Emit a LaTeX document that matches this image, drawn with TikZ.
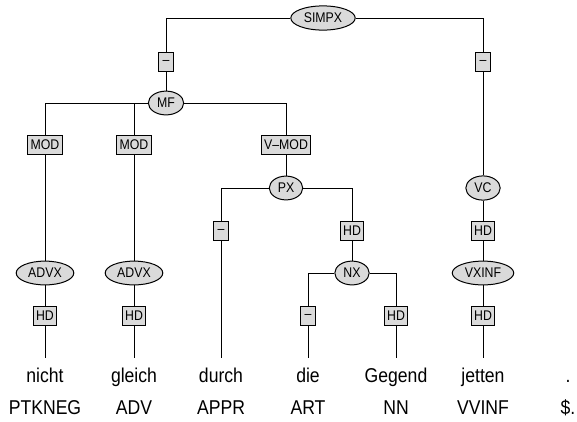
\documentclass[tikz,border=0pt]{standalone}
\usepackage{fontspec}
\newfontfamily\treefont{Liberation Sans}[FakeStretch=0.88,Ligatures=TeX]
\usetikzlibrary{shapes.geometric}
\definecolor{NodeGray}{RGB}{218,218,218}
\tikzset{
  catnode/.style={draw=black,ellipse,fill=NodeGray,line width=1pt,
    inner sep=3.6pt,minimum height=23pt,
    font=\treefont\fontsize{14}{16}\selectfont},
  funcbox/.style={draw=black,rectangle,fill=NodeGray,line width=1pt,
    inner xsep=3pt,inner ysep=0pt,minimum width=15pt,minimum height=19pt,
    font=\treefont\fontsize{14}{16}\selectfont},
  wordnode/.style={anchor=north,inner xsep=0pt,inner ysep=9.5pt,
    text height=15pt,text depth=4pt,font=\treefont\fontsize{20}{24}\selectfont},
  tagnode/.style={anchor=base,inner sep=0pt,
    font=\treefont\fontsize{20}{24}\selectfont},
  treeline/.style={line width=1pt,draw=black},
}

\begin{document}
\begin{tikzpicture}[x=1pt,y=-1pt]
    \useasboundingbox (0,0) rectangle (577,421);

    % terminals and their tags
    \foreach \x/\w/\t [count=\i] in {45/nicht/PTKNEG,134/gleich/ADV,
        221/durch/APPR,308/die/ART,396/Gegend/NN,483/jetten/VVINF,568/./\$.}{
      \node[wordnode] (w\i) at (\x,358) {\w};
      \node[tagnode]  (t\i) at (\x,414) {\t};
    }

    % sentence level
    \node[catnode] (simpx) at (323,18)  {SIMPX};
    \node[funcbox] (e1)    at (166,62)  {–};
    \node[funcbox] (e2)    at (483,62)  {–};

    % middle field
    \node[catnode] (mf)    at (166,103) {MF};
    \node[funcbox] (mod1)  at (45,145)  {MOD};
    \node[funcbox] (mod2)  at (134,145) {MOD};
    \node[funcbox] (vmod)  at (286,145) {V–MOD};
    \node[catnode] (advx1) at (45,273)  {ADVX};
    \node[catnode] (advx2) at (134,273) {ADVX};
    \node[funcbox] (hd1)   at (45,316)  {HD};
    \node[funcbox] (hd2)   at (134,316) {HD};

    % prepositional phrase
    \node[catnode] (px)    at (286,188) {PX};
    \node[funcbox] (e3)    at (221,231) {–};
    \node[funcbox] (hdpx)  at (352,231) {HD};
    \node[catnode] (nx)    at (352,273) {NX};
    \node[funcbox] (e4)    at (308,316) {–};
    \node[funcbox] (hdnn)  at (396,316) {HD};

    % verb complex
    \node[catnode] (vc)    at (483,188) {VC};
    \node[funcbox] (hdvc)  at (483,231) {HD};
    \node[catnode] (vxinf) at (483,273) {VXINF};
    \node[funcbox] (hdv)   at (483,316) {HD};

    % branches
    \draw[treeline] (simpx) -| (e1);
    \draw[treeline] (simpx) -| (e2);
    \draw[treeline] (e1) -- (mf);
    \draw[treeline] (e2) -- (vc);
    \draw[treeline] (mf) -| (mod1);
    \draw[treeline] (mf) -| (mod2);
    \draw[treeline] (mf) -| (vmod);
    \draw[treeline] (mod1) -- (advx1);
    \draw[treeline] (mod2) -- (advx2);
    \draw[treeline] (advx1) -- (hd1);
    \draw[treeline] (advx2) -- (hd2);
    \draw[treeline] (hd1) -- (w1);
    \draw[treeline] (hd2) -- (w2);
    \draw[treeline] (vmod) -- (px);
    \draw[treeline] (px) -| (e3);
    \draw[treeline] (px) -| (hdpx);
    \draw[treeline] (e3) -- (w3);
    \draw[treeline] (hdpx) -- (nx);
    \draw[treeline] (nx) -| (e4);
    \draw[treeline] (nx) -| (hdnn);
    \draw[treeline] (e4) -- (w4);
    \draw[treeline] (hdnn) -- (w5);
    \draw[treeline] (vc) -- (hdvc);
    \draw[treeline] (hdvc) -- (vxinf);
    \draw[treeline] (vxinf) -- (hdv);
    \draw[treeline] (hdv) -- (w6);
\end{tikzpicture}
\end{document}
